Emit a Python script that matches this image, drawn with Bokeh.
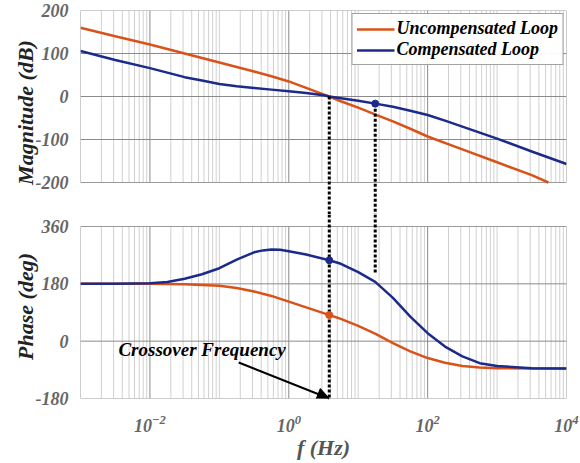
import numpy as np
from bokeh.plotting import figure
from bokeh.layouts import column
from bokeh.models import (FixedTicker, Label, Arrow, NormalHead, Legend,
                          LegendItem, Range1d)
from bokeh.embed import file_html
from bokeh.resources import INLINE

# ---------------- data ----------------
# log10 of frequency (Hz) and values
mag_unc_logf = [-3, -2.5, -2, -1.5, -1, -0.5, -0.25, 0, 0.25, 0.5, 0.583, 0.75, 1,
                1.25, 1.5, 1.75, 2, 2.5, 3, 3.5, 3.74]
mag_unc_db = [160, 140, 121, 100, 79, 58, 47, 35, 20, 5, 0, -11, -26,
              -42, -58, -75, -93, -123, -153, -183, -200]

mag_comp_logf = [-3, -2.5, -2, -1.5, -1.25, -1, -0.75, -0.5, -0.25, 0, 0.25, 0.5,
                 0.583, 0.75, 1, 1.245, 1.5, 1.75, 2, 2.25, 2.5, 2.75, 3, 3.5, 4]
mag_comp_db = [106, 85, 66, 45, 37, 29, 24, 20, 16, 12, 8, 3,
               0, -4, -10, -16.6, -24, -33, -43, -56, -70, -84, -98, -128, -157]

ph_unc_logf = [-3, -2, -1.5, -1, -0.75, -0.5, -0.25, 0, 0.25, 0.5, 0.583, 0.75, 1,
               1.25, 1.5, 1.75, 2, 2.25, 2.5, 2.75, 3, 3.5, 4]
ph_unc_deg = [180, 180, 179, 174, 167, 156, 142, 124, 106, 88, 82, 70, 48,
              23, -6, -32, -53, -68, -78, -83, -85, -86, -86]

ph_comp_logf = [-3, -2.5, -2, -1.75, -1.5, -1.25, -1, -0.75, -0.5, -0.375, -0.25,
                -0.125, 0, 0.25, 0.583, 0.75, 1, 1.245, 1.5, 1.75, 2, 2.25, 2.5,
                2.75, 3, 3.5, 4]
ph_comp_deg = [180, 180, 182, 186, 196, 210, 229, 256, 279, 285, 288,
               287, 282, 272, 254, 243, 217, 186, 136, 77, 25, -17, -48,
               -69, -78, -85, -86]

crossover_logf = 0.583      # crossover frequency (log10 Hz)
second_logf = 1.245         # second marked frequency (log10 Hz)
comp_mag_at_second = -16.6
comp_phase_at_cross = 254
unc_phase_at_cross = 82
second_phase_end = 212

series_names = ["Uncompensated Loop", "Compensated Loop"]
x_tick_values = [1e-2, 1, 1e2, 1e4]
mag_ticks = [-200, -100, 0, 100, 200]
phase_ticks = [-180, 0, 180, 360]
mag_lim = (-200, 200)
phase_lim = (-180, 360)
x_lim = (1e-3, 1e4)

ORANGE = "#D95319"
BLUE = "#1C2A8A"
FONT = "Liberation Serif"
DOT = dict(line_color="black", line_width=3, line_dash="3 2")

# layout (pixels)
TOP, PANEL_H, GAP, BOTTOM = 10, 172, 44, 65
GAP_MAG = 32            # part of the gap that belongs to the magnitude canvas
GAP_PH = GAP - GAP_MAG  # part of the gap that belongs to the phase canvas

fc = 10 ** crossover_logf
f2 = 10 ** second_logf

major_x = [v for v in x_tick_values if x_lim[0] < v < x_lim[1]]
minor_x = [k * 10.0 ** d for d in range(-3, 4) for k in range(1, 10)
           if x_lim[0] < k * 10.0 ** d < x_lim[1] and k * 10.0 ** d not in major_x]
x_range = Range1d(*x_lim)


def panel_grid(p, lim, yticks):
    lo, hi = lim
    p.segment(x0=minor_x, x1=minor_x, y0=lo, y1=hi, line_color="#d0d0d0",
              line_width=1)
    p.segment(x0=major_x, x1=major_x, y0=lo, y1=hi, line_color="#8a8a8a",
              line_width=1)
    inner = [t for t in yticks if lo < t < hi]
    p.segment(x0=x_lim[0], x1=x_lim[1], y0=inner, y1=inner, line_color="#8a8a8a",
              line_width=1)
    p.quad(left=x_lim[0], right=x_lim[1], bottom=lo, top=hi, fill_color=None,
           line_color="#9a9a9a", line_width=1)


def style(p, ylabel, yticks, lim):
    p.outline_line_color = None
    p.grid.visible = False
    ax = p.yaxis[0]
    ax.ticker = FixedTicker(ticks=yticks)
    ax.major_label_overrides = {t: str(t) for t in yticks}
    ax.bounds = lim
    ax.axis_label = ylabel
    for a in p.axis:
        a.axis_line_color = None
        a.major_tick_line_color = None
        a.minor_tick_line_color = None
        a.major_label_text_font = FONT
        a.major_label_text_font_style = "bold italic"
        a.major_label_text_font_size = "18px"
        a.major_label_text_color = "#666666"
        a.axis_label_text_font = FONT
        a.axis_label_text_font_style = "bold italic"
        a.axis_label_text_font_size = "22px"
        a.axis_label_text_color = "#222222"
    ax.major_label_standoff = 6
    ax.axis_label_standoff = -5


# ---------------- magnitude panel (canvas also covers most of the gap) ----------------
mag_per_px = (mag_lim[1] - mag_lim[0]) / PANEL_H
p1 = figure(width=580, height=TOP + PANEL_H + GAP_MAG, x_axis_type="log",
            x_range=x_range,
            y_range=Range1d(mag_lim[0] - GAP_MAG * mag_per_px, mag_lim[1]),
            x_axis_location=None, output_backend="svg", toolbar_location=None,
            min_border=0, min_border_left=80, min_border_right=14,
            min_border_top=TOP)
style(p1, "Magnitude (dB)", mag_ticks, mag_lim)
panel_grid(p1, mag_lim, mag_ticks)

r_unc = p1.line([10 ** v for v in mag_unc_logf], mag_unc_db,
                line_color=ORANGE, line_width=2.5)
r_comp = p1.line([10 ** v for v in mag_comp_logf], mag_comp_db,
                 line_color=BLUE, line_width=2.5)
p1.segment(x0=[fc, f2], x1=[fc, f2], y0=[0, comp_mag_at_second],
           y1=[p1.y_range.start] * 2, **DOT)
p1.scatter([f2], [comp_mag_at_second], size=7, color=BLUE)

legend = Legend(items=[LegendItem(label=series_names[0], renderers=[r_unc]),
                       LegendItem(label=series_names[1], renderers=[r_comp])],
                location="top_right")
legend.label_text_font = FONT
legend.label_text_font_style = "bold italic"
legend.label_text_font_size = "18px"
legend.label_text_color = "black"
legend.border_line_color = "#444444"
legend.border_line_width = 1
legend.glyph_width = 38
legend.glyph_height = 18
legend.label_standoff = 2
legend.padding = 4
legend.spacing = 0
legend.margin = 3
p1.add_layout(legend, "center")

# ---------------- phase panel ----------------
ph_per_px = (phase_lim[1] - phase_lim[0]) / PANEL_H
p2 = figure(width=580, height=GAP_PH + PANEL_H + BOTTOM, x_axis_type="log",
            x_range=x_range,
            y_range=Range1d(phase_lim[0], phase_lim[1] + GAP_PH * ph_per_px),
            output_backend="svg", toolbar_location=None,
            min_border=0, min_border_left=80, min_border_right=14,
            min_border_bottom=BOTTOM)
style(p2, "Phase (deg)", phase_ticks, phase_lim)
panel_grid(p2, phase_lim, phase_ticks)
xa = p2.xaxis[0]
xa.ticker = FixedTicker(ticks=x_tick_values)
xa.axis_label = "f (Hz)"
xa.axis_label_text_color = "#555555"
xa.major_label_standoff = 10
xa.axis_label_standoff = 0

p2.line([10 ** v for v in ph_unc_logf], ph_unc_deg, line_color=ORANGE, line_width=2.5)
p2.line([10 ** v for v in ph_comp_logf], ph_comp_deg, line_color=BLUE, line_width=2.5)
p2.segment(x0=[fc, f2], x1=[fc, f2], y0=[p2.y_range.end] * 2,
           y1=[phase_lim[0], second_phase_end], **DOT)
p2.scatter([fc], [comp_phase_at_cross], size=7, color=BLUE)
p2.scatter([fc], [unc_phase_at_cross], size=7, color=ORANGE)

p2.add_layout(Label(x=0.00352, y=-25, text="Crossover Frequency",
                    text_font=FONT, text_font_style="bold italic",
                    text_font_size="19px", text_baseline="middle",
                    text_color="black"))
p2.add_layout(Arrow(end=NormalHead(size=12, fill_color="black", line_color="black"),
                    x_start=0.19, y_start=-67, x_end=fc, y_end=-180,
                    line_width=2, line_color="black"))

layout = column(p1, p2, spacing=0)
open("out.html", "w").write(file_html(layout, INLINE))
